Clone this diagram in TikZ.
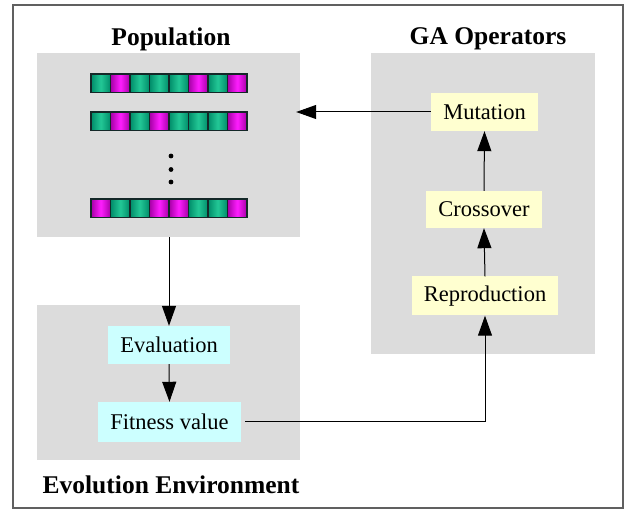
\documentclass[tikz,border=0pt]{standalone}
\usepackage{fontspec}
\setmainfont{Liberation Serif}
\usetikzlibrary{arrows.meta}
\definecolor{panel}{RGB}{220,220,220}
\definecolor{opfill}{RGB}{255,255,208}
\definecolor{envfill}{RGB}{204,255,255}
\definecolor{frame}{RGB}{96,96,96}
\definecolor{gedge}{RGB}{0,140,105}
\definecolor{gmid}{RGB}{35,200,150}
\definecolor{medge}{RGB}{165,0,165}
\definecolor{mmid}{RGB}{255,30,255}
\definecolor{celldraw}{RGB}{20,40,40}
\tikzset{
  panelbox/.style={fill=panel, draw=none, inner sep=0pt},
  opbox/.style={fill=opfill, draw=none, inner sep=0pt, font=\fontsize{22.5}{27}\selectfont},
  envbox/.style={fill=envfill, draw=none, inner sep=0pt, font=\fontsize{22.5}{27}\selectfont},
  titletext/.style={font=\fontsize{25.5}{30}\selectfont\bfseries, inner sep=0pt},
  conn/.style={draw=black, line width=1pt, -{Triangle[length=20pt,width=14pt]}},
  gcell/.style={left color=gedge, right color=gedge, middle color=gmid, draw=celldraw, line width=1.2pt},
  mcell/.style={left color=medge, right color=medge, middle color=mmid, draw=celldraw, line width=1.2pt},
}
\begin{document}
\begin{tikzpicture}[x=1pt,y=-1pt]
\useasboundingbox (0,0) rectangle (625,510);
\fill[white] (0,0) rectangle (625,510);
\draw[frame, line width=1.5pt] (13,5) rectangle (623,508);
% panels
\node[panelbox, minimum width=263pt, minimum height=184pt] (pop) at (168.5,145) {};
\node[panelbox, minimum width=224pt, minimum height=301pt] (ga) at (483,203.5) {};
\node[panelbox, minimum width=263pt, minimum height=155pt] (env) at (168.5,383) {};
% titles
\node[titletext] (poptitle) at (171,39) {Population};
\node[titletext] (gatitle) at (488,39) {GA Operators};
\node[titletext] (envtitle) at (171,485) {Evolution Environment};
% chromosomes
\foreach \row/\y in {{0,1,0,0,0,1,0,1}/74,{0,1,0,1,0,0,0,1}/112,{1,0,0,1,1,0,0,1}/199}{
  \foreach \c [count=\i from 0] in \row {
    \ifnum\c=1
      \path[mcell] ({91+19.5*\i},\y) rectangle ({91+19.5*(\i+1)},\y+18.5);
    \else
      \path[gcell] ({91+19.5*\i},\y) rectangle ({91+19.5*(\i+1)},\y+18.5);
    \fi
  }
}
\foreach \yy in {156,169.5,182} \fill[black] (171,\yy) circle (2.4pt);
% operators
\node[opbox, minimum width=107pt, minimum height=38pt] (mut) at (484.5,112) {Mutation};
\node[opbox, minimum width=116pt, minimum height=37pt] (cro) at (484,209.5) {Crossover};
\node[opbox, minimum width=146pt, minimum height=39pt] (rep) at (485,296) {Reproduction};
% environment
\node[envbox, minimum width=122pt, minimum height=38pt] (eval) at (169,345) {Evaluation};
\node[envbox, minimum width=143pt, minimum height=40pt] (fit) at (169.5,422) {Fitness value};
% connectors
\draw[conn] (mut.west) -- ([xshift=-4pt]pop.east |- mut.west);
\draw[conn] (pop.south -| eval.north) -- (eval.north);
\draw[conn] (eval.south) -- (fit.north);
\draw[conn] ([xshift=4pt]fit.east) -| (rep.south);
\draw[conn] (rep.north) -- (cro.south);
\draw[conn] (cro.north) -- (mut.south);
\end{tikzpicture}
\end{document}
